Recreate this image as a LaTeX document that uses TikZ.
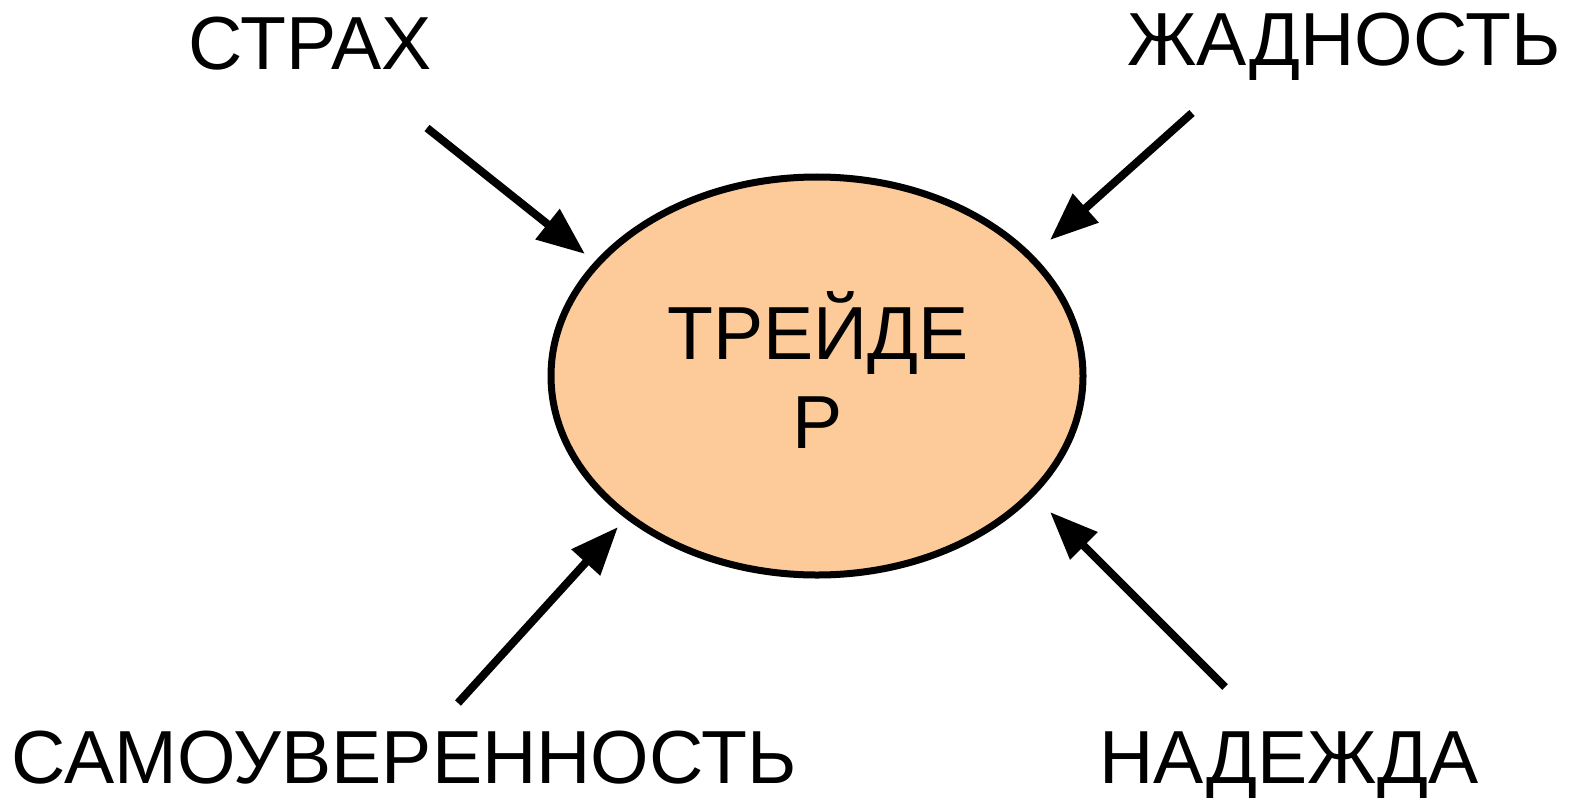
\documentclass[tikz,border=0pt]{standalone}
\usepackage{fontspec}
\setmainfont{Liberation Sans}
\usetikzlibrary{arrows.meta,shapes.geometric}
\definecolor{peach}{RGB}{253,203,153}
\tikzset{
  lbl/.style={font=\fontsize{75.5}{89}\selectfont, inner sep=0pt, anchor=base},
  push/.style={line width=8bp, -{Triangle[length=48bp,width=37bp]}},
}
\begin{document}
\begin{tikzpicture}[x=1bp,y=-1bp]
\useasboundingbox (0,0) rectangle (1572,797);
% central ellipse
\node[draw, line width=7bp, fill=peach, ellipse, minimum width=532bp, minimum height=398bp, inner sep=0pt] (trader) at (817,376) {};
\node[lbl] (t1) at (818,359) {ТРЕЙДЕ};
\node[lbl] (t2) at (818,448) {Р};
% surrounding labels
\node[lbl] (fear) at (310,70) {СТРАХ};
\node[lbl] (greed) at (1344,66) {ЖАДНОСТЬ};
\node[lbl] (conf) at (404,783) {САМОУВЕРЕННОСТЬ};
\node[lbl] (hope) at (1289,783) {НАДЕЖДА};
% arrow ends
\coordinate (a1s) at (427,128); \coordinate (a1e) at (585,254);
\coordinate (a2s) at (1192,113); \coordinate (a2e) at (1050,240);
\coordinate (a3s) at (458,703); \coordinate (a3e) at (618,527);
\coordinate (a4s) at (1225,687); \coordinate (a4e) at (1050,512);
\draw[push] (a1s) -- (a1e);
\draw[push] (a2s) -- (a2e);
\draw[push] (a3s) -- (a3e);
\draw[push] (a4s) -- (a4e);
\end{tikzpicture}
\end{document}
